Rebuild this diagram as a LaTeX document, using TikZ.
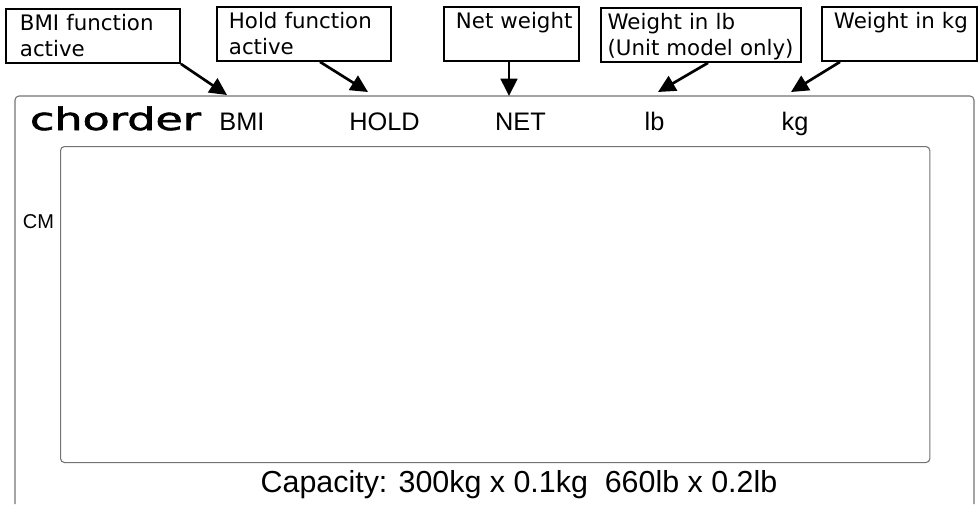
\documentclass[tikz,border=0pt]{standalone}
\usepackage{fontspec}
\usetikzlibrary{arrows.meta,calc}
\setmainfont{Liberation Sans}
\newfontfamily\callfont{DejaVu Sans}
\newfontfamily\logofont{DejaVu Sans}[FakeBold=1.6]
\newcommand{\ind}[1]{\hspace*{#1pt}}
\newcommand{\firstline}{\rule{0pt}{15.2pt}}
\tikzset{
  x=0.75pt,y=-0.75pt,
  callout/.style={draw=black,line width=1.4pt,anchor=north west,align=left,inner xsep=0pt,inner ysep=0pt,
    minimum height=40.5pt,font=\callfont\fontsize{16}{19.4}\selectfont,text width=#1*0.75pt},
  pointer/.style={draw=black,line width=2pt,-{Triangle[length=13pt,width=12.5pt]}},
  panel/.style={draw=black!55,line width=0.8pt},
  seglabel/.style={anchor=base,font=\fontsize{19}{21}\selectfont,inner sep=0pt},
}
\begin{document}
\begin{tikzpicture}
\useasboundingbox (0,0) rectangle (980,504);
% panels
\coordinate (olb) at (15,504);
\coordinate (ort) at (974,504);
\draw[panel,rounded corners=3pt] (olb) -- (15,96) -- (974,96) -- (ort);
\node[panel,rounded corners=3pt,anchor=north west,minimum width=652pt,minimum height=237pt,inner sep=0pt] (screen) at (60,146) {};
% callouts
\node[callout=174] (bmibox) at (5,8) {\firstline\ind{10.5}BMI function\\\ind{10.5}active\vphantom{y}};
\node[callout=174] (holdbox) at (216,6) {\firstline\ind{9}Hold function\\\ind{9}active\vphantom{y}};
\node[callout=135] (netbox) at (443,6) {\firstline\ind{9}Net weight\\\vphantom{y}};
\node[callout=200] (lbbox) at (600,7) {\firstline\ind{5}Weight in lb\\\ind{5}(Unit model only)};
\node[callout=155] (kgbox) at (821,6) {\firstline\ind{9}Weight in kg\\\vphantom{y}};
% targets
\coordinate (bmit) at (227,95);
\coordinate (holdt) at (368,92);
\coordinate (nett) at (509,96);
\coordinate (lbt) at (658,92);
\coordinate (kgt) at (791,92);
\draw[pointer] (bmibox.south east) -- (bmit);
\draw[pointer] ($(holdbox.south west)+(104,0)$) -- (holdt);
\draw[pointer] ($(netbox.south west)+(66,0)$) -- (nett);
\draw[pointer] ($(lbbox.south west)+(108,0)$) -- (lbt);
\draw[pointer] ($(kgbox.south west)+(19,0)$) -- (kgt);
% display labels
\node[anchor=base,inner sep=0pt,font=\logofont] (logo) at (115.5,130) {\scalebox{1.96}[1.37]{\fontsize{17}{17}\selectfont chorder}};
\node[seglabel] (bmi) at (242,130) {BMI};
\node[seglabel] (hold) at (384.5,130) {HOLD};
\node[seglabel] (net) at (520.5,130) {NET};
\node[seglabel] (lb) at (654.5,130) {lb};
\node[seglabel] (kg) at (795,130) {kg};
\node[anchor=base,inner sep=0pt,font=\fontsize{15}{17}\selectfont] (cm) at (38.5,228) {CM};
\node[anchor=base,inner sep=0pt,font=\fontsize{22.8}{25}\selectfont] (cap) at (519,492) {Capacity: 300kg x 0.1kg\ \ 660lb x 0.2lb};
\end{tikzpicture}
\end{document}
